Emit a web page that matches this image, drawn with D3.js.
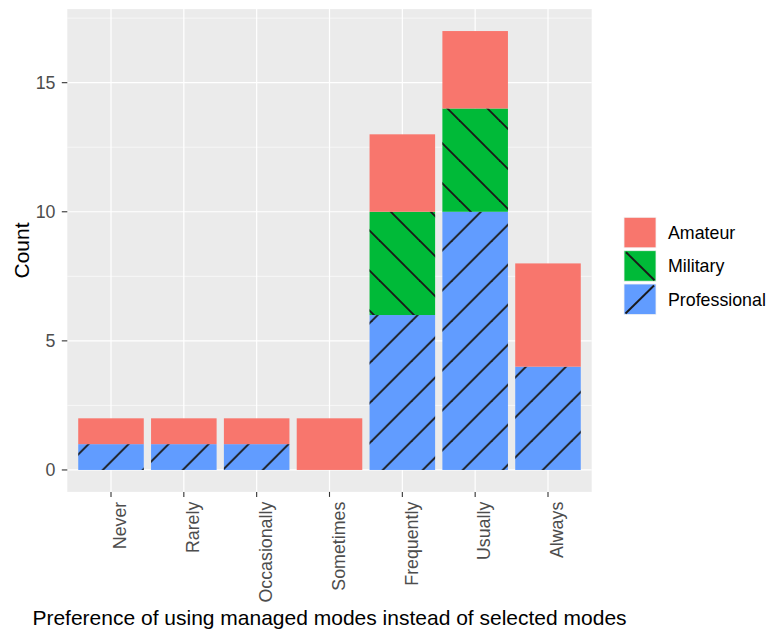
<!DOCTYPE html>
<html><head><meta charset="utf-8">
<script src="https://cdn.jsdelivr.net/npm/d3@7"></script>
<style>
html,body{margin:0;padding:0;background:#fff;}
text{font-family:"Liberation Sans",Arial,sans-serif;}
</style></head>
<body>
<svg id="chart" width="771" height="632"></svg>
<script>
const categories = ["Never","Rarely","Occasionally","Sometimes","Frequently","Usually","Always"];
const professional = [1,1,1,0,6,10,4];
const military = [0,0,0,0,4,4,0];
const amateur = [1,1,1,2,3,3,4];
const yTicks = [0,5,10,15];
const yMinor = [2.5,7.5,12.5,17.5];
const groups = ["Amateur","Military","Professional"];
const colors = {Amateur:"#F8766D", Military:"#00BA38", Professional:"#619CFF"};
const xTitle = "Preference of using managed modes instead of selected modes";
const yTitle = "Count";

const svg = d3.select("#chart");
const panel = {left:67.3, right:591.7, top:9.1, bottom:491.9};
const tickFont = 17.8, titleFont = 21;

const rows = categories.map((c,i)=>({cat:c, Professional:professional[i], Military:military[i], Amateur:amateur[i]}));
const stack = d3.stack().keys(["Professional","Military","Amateur"])(rows);

const x = d3.scaleBand().domain(categories).range([panel.left, panel.right]).paddingInner(0.1).paddingOuter(0.15);
const y = d3.scaleLinear().domain([-0.85, 17.85]).range([panel.bottom, panel.top]);

// patterns
const defs = svg.append("defs");
function mkPattern(id, dir, ox){
  const p = defs.append("pattern").attr("id", id).attr("patternUnits","userSpaceOnUse")
    .attr("width",40).attr("height",40).attr("x",ox).attr("y",0);
  const segs = dir === "/" ? [[0,40,40,0],[-10,10,10,-10],[30,50,50,30]]
                           : [[0,0,40,40],[-10,30,10,50],[30,-10,50,10]];
  segs.forEach(s=>p.append("line").attr("x1",s[0]).attr("y1",s[1]).attr("x2",s[2]).attr("y2",s[3])
    .attr("stroke","#1a1a1a").attr("stroke-width",1.9));
}
mkPattern("pat-prof","/",12.7);
mkPattern("pat-mil","\\",19);
const patterns = {Professional:"url(#pat-prof)", Military:"url(#pat-mil)", Amateur:null};

// panel
svg.append("rect").attr("x",panel.left).attr("y",panel.top)
  .attr("width",panel.right-panel.left).attr("height",panel.bottom-panel.top).attr("fill","#EBEBEB");
const g = svg.append("g");
yMinor.forEach(v=>g.append("line").attr("x1",panel.left).attr("x2",panel.right)
  .attr("y1",y(v)).attr("y2",y(v)).attr("stroke","#fff").attr("stroke-width",0.6));
yTicks.forEach(v=>g.append("line").attr("x1",panel.left).attr("x2",panel.right)
  .attr("y1",y(v)).attr("y2",y(v)).attr("stroke","#fff").attr("stroke-width",1.2));
categories.forEach(c=>{
  const cx = x(c)+x.bandwidth()/2;
  g.append("line").attr("x1",cx).attr("x2",cx).attr("y1",panel.top).attr("y2",panel.bottom)
    .attr("stroke","#fff").attr("stroke-width",1.2);
});

// bars
stack.forEach(layer=>{
  const key = layer.key;
  layer.forEach((d,i)=>{
    if (d[1]-d[0] <= 0) return;
    const c = categories[i];
    g.append("rect").attr("x",x(c)).attr("width",x.bandwidth())
      .attr("y",y(d[1])).attr("height",y(d[0])-y(d[1])).attr("fill",colors[key]);
    if (patterns[key]) {
      g.append("rect").attr("x",x(c)).attr("width",x.bandwidth())
        .attr("y",y(d[1])).attr("height",y(d[0])-y(d[1])).attr("fill",patterns[key]);
    }
  });
});

// y axis
yTicks.forEach(v=>{
  svg.append("line").attr("x1",panel.left-5.5).attr("x2",panel.left).attr("y1",y(v)).attr("y2",y(v))
    .attr("stroke","#333").attr("stroke-width",1.1);
  svg.append("text").attr("x",panel.left-11.8).attr("y",y(v)).attr("dy","0.36em")
    .attr("text-anchor","end").attr("fill","#4D4D4D").attr("font-size",tickFont).text(v);
});
// x axis
categories.forEach(c=>{
  const cx = x(c)+x.bandwidth()/2;
  svg.append("line").attr("x1",cx).attr("x2",cx).attr("y1",panel.bottom).attr("y2",panel.bottom+5)
    .attr("stroke","#333").attr("stroke-width",1.1);
  svg.append("text").attr("transform",`translate(${cx+15.3},${panel.bottom+9.8}) rotate(-90)`)
    .attr("text-anchor","end").attr("fill","#4D4D4D").attr("font-size",tickFont).text(c);
});
svg.append("text").attr("x",(panel.left+panel.right)/2).attr("y",625).attr("text-anchor","middle")
  .attr("font-size",titleFont).attr("fill","#000").text(xTitle);
svg.append("text").attr("transform",`translate(29,${(panel.top+panel.bottom)/2}) rotate(-90)`)
  .attr("text-anchor","middle").attr("font-size",titleFont).attr("fill","#000").text(yTitle);

// legend
const legY = [217.3, 250.7, 284];
groups.forEach((k,i)=>{
  const lx = 624, ly = legY[i], w = 32, h = 30.5;
  svg.append("rect").attr("x",lx).attr("y",ly).attr("width",w).attr("height",h)
    .attr("fill",colors[k]).attr("stroke","#F2F2F2").attr("stroke-width",0.8);
  if (k==="Military") svg.append("line").attr("x1",lx+2).attr("y1",ly+1.5).attr("x2",lx+w-1.5).attr("y2",ly+h-1)
    .attr("stroke","#1a1a1a").attr("stroke-width",1.9);
  if (k==="Professional") svg.append("line").attr("x1",lx+1.5).attr("y1",ly+h-1).attr("x2",lx+w-2).attr("y2",ly+1.5)
    .attr("stroke","#1a1a1a").attr("stroke-width",1.9);
  svg.append("text").attr("x",668).attr("y",ly+h/2).attr("dy","0.36em").attr("font-size",tickFont)
    .attr("fill","#000").text(k);
});
</script>
</body></html>
